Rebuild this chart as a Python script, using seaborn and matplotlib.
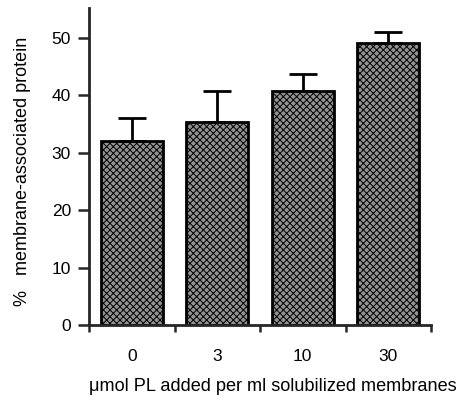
import numpy as np
import pandas as pd
import matplotlib
matplotlib.use('Agg')
import matplotlib.pyplot as plt
import seaborn as sns
from matplotlib.ticker import FixedLocator

# Values
pl_added = ['0', '3', '10', '30']
membrane_pct = [32.1, 35.4, 40.8, 49.2]
sem = [4.0, 5.4, 2.9, 1.9]

df = pd.DataFrame({'pl': pl_added, 'pct': membrane_pct, 'err': sem})

sns.set_style('ticks')
plt.rcParams['font.family'] = ['Liberation Sans', 'DejaVu Sans']
plt.rcParams['hatch.linewidth'] = 0.7

fig = plt.figure(figsize=(4.59, 4.03), dpi=100)
ax = fig.add_axes([0.194, 0.193, 0.745, 0.787])

# stippled grey bars
sns.barplot(data=df, x='pl', y='pct', color='#929292', saturation=1,
            width=0.73, edgecolor='black', linewidth=2, errorbar=None,
            hatch='xxxxx', ax=ax)

# upward-only error bars
ax.errorbar(np.arange(len(df)), df['pct'], yerr=[np.zeros(len(df)), df['err']],
            fmt='none', ecolor='black', elinewidth=2, capsize=10, capthick=2, zorder=1)

ax.set_xlim(-0.5, 3.5)
ax.set_ylim(0, 55.2)
ax.set_yticks([0, 10, 20, 30, 40, 50])
ax.xaxis.set_minor_locator(FixedLocator([-0.5, 0.5, 1.5, 2.5, 3.5]))
ax.tick_params(axis='x', which='major', length=0, pad=17, labelsize=12.5, labelcolor='black')
ax.tick_params(axis='x', which='minor', length=5, width=1.8, direction='out')
ax.tick_params(axis='y', length=8, width=1.8, direction='out', labelsize=12.5, pad=5,
               labelcolor='black')

sns.despine(ax=ax)
ax.spines['left'].set_linewidth(2)
ax.spines['bottom'].set_linewidth(2)

ax.set_ylabel('%   membrane-associated protein', fontsize=13, labelpad=15, color='black')
ax.yaxis.label.set_y(0.485)
ax.set_xlabel('\u03bcmol PL added per ml solubilized membranes', fontsize=13.1, labelpad=10,
              color='black', x=0.538)

fig.savefig('out.png', dpi=100)
